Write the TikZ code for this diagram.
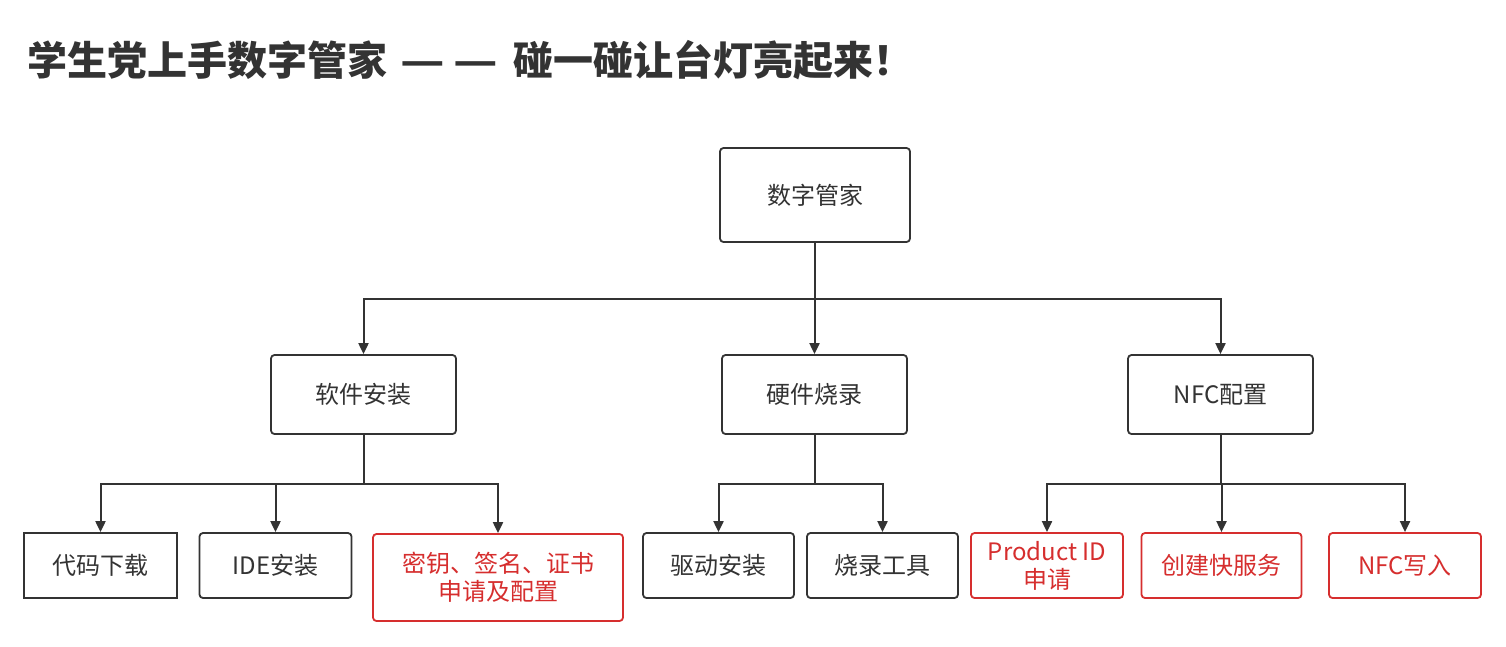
\documentclass[tikz,border=0pt]{standalone}
\usepackage{fontspec}
\setmainfont{Noto Sans CJK SC}
\usetikzlibrary{arrows.meta}
\definecolor{ink}{HTML}{333333}
\definecolor{hot}{RGB}{214,46,46}
\tikzset{
  box/.style={draw=ink, line width=1.8pt, rounded corners=3.5pt, text=ink,
    inner sep=0pt, align=center, font=\fontsize{24}{29}\selectfont},
  sqbox/.style={box, rounded corners=0pt},
  redbox/.style={box, draw=hot, text=hot},
  conn/.style={draw=ink, line width=2pt,
    -{Triangle[length=11pt,width=10pt]}},
}
\begin{document}
\begin{tikzpicture}[x=1pt,y=-1pt]
\useasboundingbox[fill=white] (0,0) rectangle (1506,646);
\node[anchor=west, text=ink, font=\fontsize{40}{44}\selectfont\bfseries, inner sep=0pt]
  (title) at (27,60) {学生党上手数字管家\hspace{13pt}\scalebox{1.22}[1]{—}\hspace{9pt}\scalebox{1.22}[1]{—}\hspace{15pt}碰一碰让台灯亮起来！};

\node[box, minimum width=190pt, minimum height=94pt] (root) at (815,195) {数字管家};

\node[box, minimum width=185pt, minimum height=79pt] (sw) at (363.5,394.5) {软件安装};
\node[box, minimum width=185pt, minimum height=79pt] (hw) at (814.5,394.5) {硬件烧录};
\node[box, minimum width=185pt, minimum height=79pt] (nfc) at (1220.5,394.5) {NFC配置};

\node[sqbox, minimum width=153pt, minimum height=65pt] (c1) at (100.5,565.5) {代码下载};
\node[box, minimum width=152pt, minimum height=65pt] (c2) at (275.5,565.5) {IDE安装};
\node[redbox, minimum width=250pt, minimum height=87pt] (c3) at (498,577.5) {密钥、签名、证书\\[-1pt]申请及配置};
\node[box, minimum width=151pt, minimum height=65pt] (c4) at (718.5,565.5) {驱动安装};
\node[box, minimum width=151pt, minimum height=65pt] (c5) at (882.5,565.5) {烧录工具};
\node[redbox, minimum width=152pt, minimum height=65pt] (c6) at (1047,565.5) {Product ID\\[-1pt]申请};
\node[redbox, minimum width=160pt, minimum height=65pt] (c7) at (1221.5,565.5) {创建快服务};
\node[redbox, minimum width=152pt, minimum height=65pt] (c8) at (1405,565.5) {NFC写入};

\coordinate (busA) at (0,298.5);
\coordinate (busB) at (0,484);

\foreach \c in {sw,hw,nfc}
  \draw[conn] (root.south) -- (root.south |- busA) -| (\c.north);
\foreach \c in {c1,c2,c3}
  \draw[conn] (sw.south) -- (sw.south |- busB) -| (\c.north);
\foreach \c in {c4,c5}
  \draw[conn] (hw.south) -- (hw.south |- busB) -| (\c.north);
\foreach \c in {c6,c7,c8}
  \draw[conn] (nfc.south) -- (nfc.south |- busB) -| (\c.north);
\end{tikzpicture}
\end{document}
